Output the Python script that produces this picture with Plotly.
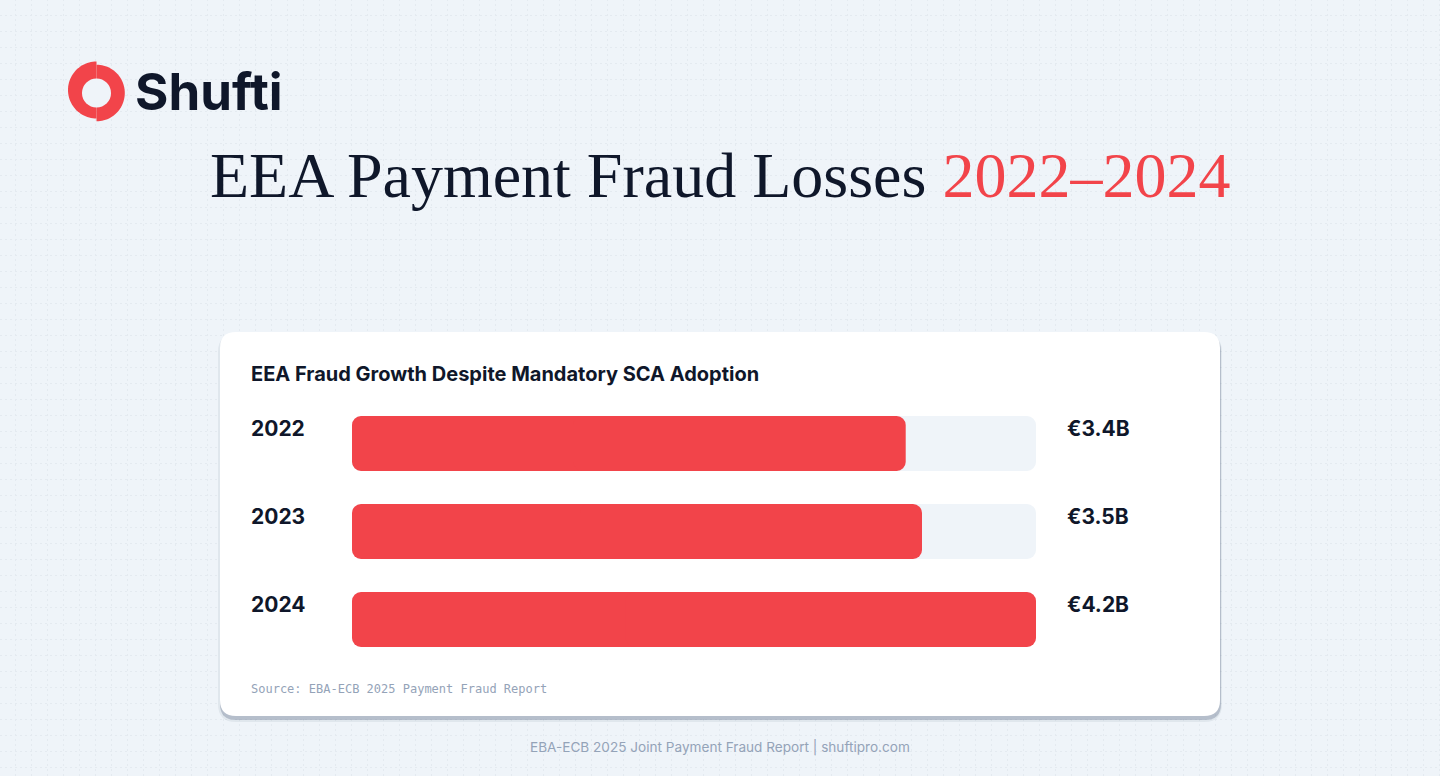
import math
import plotly.graph_objects as go

# ---- data ----
years = ["2022", "2023", "2024"]
losses_bn = [3.4, 3.5, 4.2]
axis_max = 4.2
chart_title = "EEA Payment Fraud Losses"
title_span = "2022–2024"
card_title = "EEA Fraud Growth Despite Mandatory SCA Adoption"
source_note = "Source: EBA-ECB 2025 Payment Fraud Report"
footer_note = "EBA-ECB 2025 Joint Payment Fraud Report | shuftipro.com"
brand = "Shufti"

W, H = 1440, 776
BG = "#EFF4F9"
RED = "#F2444A"
NAVY = "#0F172A"
TRACK = "#EFF4F9"
GRAY = "#94A3B8"
PAD = 3  # annotation inner padding in px
BAR_W = 0.625
RADIUS = 9


def X(px):
    return px / W


def Y(py):
    return 1 - py / H


def rrect(x0, y0, x1, y1, r):
    pts = [
        f"M{X(x0 + r)},{Y(y0)}",
        f"L{X(x1 - r)},{Y(y0)}",
        f"Q{X(x1)},{Y(y0)} {X(x1)},{Y(y0 + r)}",
        f"L{X(x1)},{Y(y1 - r)}",
        f"Q{X(x1)},{Y(y1)} {X(x1 - r)},{Y(y1)}",
        f"L{X(x0 + r)},{Y(y1)}",
        f"Q{X(x0)},{Y(y1)} {X(x0)},{Y(y1 - r)}",
        f"L{X(x0)},{Y(y0 + r)}",
        f"Q{X(x0)},{Y(y0)} {X(x0 + r)},{Y(y0)}",
        "Z",
    ]
    return " ".join(pts)


def half_disk(cx, cy, r, side):
    # side: -1 = left half, +1 = right half (angles measured in screen px)
    n = 48
    pts = []
    for k in range(n + 1):
        a = math.pi / 2 + side * (-math.pi * k / n)  # from bottom through side to top
        px = cx + side * r * abs(math.cos(a - math.pi / 2 + math.pi / 2)) if False else None
    pts = []
    for k in range(n + 1):
        t = -math.pi / 2 + math.pi * k / n  # -90..90 deg
        px = cx + side * r * math.cos(t)
        py = cy + r * math.sin(t)
        pts.append((px, py))
    path = "M" + " L".join(f"{X(p[0])},{Y(p[1])}" for p in pts) + " Z"
    return path


shapes = []
# background dotted grid
gx = 15.5
while gx < W:
    shapes.append(dict(type="line", xref="paper", yref="paper", x0=X(gx), x1=X(gx), y0=0, y1=1,
                       line=dict(color="#E4EAF0", width=1, dash="2px,3px"), layer="below"))
    gx += 16
gy = 15.5
while gy < H:
    shapes.append(dict(type="line", xref="paper", yref="paper", x0=0, x1=1, y0=Y(gy), y1=Y(gy),
                       line=dict(color="#E4EAF0", width=1, dash="2px,3px"), layer="below"))
    gy += 16

# card shadow + card
shapes.append(dict(type="path", xref="paper", yref="paper", path=rrect(218, 334, 1222, 722, 18),
                   fillcolor="rgba(100,116,139,0.10)", line=dict(width=0), layer="below"))
shapes.append(dict(type="path", xref="paper", yref="paper", path=rrect(220, 335, 1221, 720, 16),
                   fillcolor="rgba(100,116,139,0.35)", line=dict(width=0), layer="below"))
shapes.append(dict(type="path", xref="paper", yref="paper", path=rrect(220, 332, 1220, 716, 16),
                   fillcolor="#FFFFFF", line=dict(width=0), layer="below"))

# logo ring (two offset halves)
shapes.append(dict(type="path", xref="paper", yref="paper", path=half_disk(96.5, 90.0, 28.5, -1),
                   fillcolor=RED, line=dict(width=0), layer="below"))
shapes.append(dict(type="path", xref="paper", yref="paper", path=half_disk(96.5, 93.0, 28.3, 1),
                   fillcolor=RED, line=dict(width=0), layer="below"))
hx, hy, hr = 96.5, 93.0, 14.5
shapes.append(dict(type="circle", xref="paper", yref="paper", x0=X(hx - hr), x1=X(hx + hr),
                   y0=Y(hy + hr), y1=Y(hy - hr), fillcolor=BG, line=dict(width=0), layer="below"))

fig = go.Figure()


def add_rounded_bar(values, color, hover):
    # each bar is drawn as two overlapping halves so that both ends get rounded corners
    left_len = [v * 0.6 for v in values]
    right_base = [v * 0.4 for v in values]
    fig.add_trace(go.Bar(y=years, x=[-l for l in left_len], base=left_len, orientation="h",
                         marker=dict(color=color, line=dict(width=0)), width=BAR_W,
                         hoverinfo="skip", showlegend=False))
    fig.add_trace(go.Bar(y=years, x=[v - b for v, b in zip(values, right_base)], base=right_base,
                         orientation="h", marker=dict(color=color, line=dict(width=0)), width=BAR_W,
                         customdata=values, showlegend=False,
                         hovertemplate=hover if hover else None,
                         hoverinfo=None if hover else "skip"))


add_rounded_bar([axis_max] * len(years), TRACK, None)
add_rounded_bar(losses_bn, RED, "%{y}: €%{customdata}B<extra></extra>")

annotations = []
annotations.append(dict(xref="paper", yref="paper", x=X(136 - PAD), y=Y(91), xanchor="left", yanchor="middle",
                        text=f"<b>{brand}</b>", showarrow=False,
                        font=dict(family="Inter", size=51, color=NAVY)))
annotations.append(dict(xref="paper", yref="paper", x=0.5, y=Y(176), xanchor="center", yanchor="middle",
                        text=f"{chart_title} <span style='color:{RED}'>{title_span}</span>", showarrow=False,
                        font=dict(family="Liberation Serif", size=64, color=NAVY)))
annotations.append(dict(xref="paper", yref="paper", x=X(252 - PAD), y=Y(374), xanchor="left", yanchor="middle",
                        text=f"<b>{card_title}</b>", showarrow=False,
                        font=dict(family="Inter", size=20, color=NAVY)))
for i, (yr, v) in enumerate(zip(years, losses_bn)):
    annotations.append(dict(xref="paper", yref="y", x=X(252 - PAD), y=i, yshift=15.5, xanchor="left",
                            yanchor="middle", text=f"<b>{yr}</b>", showarrow=False,
                            font=dict(family="Inter", size=21, color=NAVY)))
    annotations.append(dict(xref="paper", yref="y", x=X(1068 - PAD), y=i, yshift=15.5, xanchor="left",
                            yanchor="middle", text=f"<b>€{v}B</b>", showarrow=False,
                            font=dict(family="Inter", size=21, color=NAVY)))
annotations.append(dict(xref="paper", yref="paper", x=X(252 - PAD), y=Y(689), xanchor="left", yanchor="middle",
                        text=source_note, showarrow=False,
                        font=dict(family="DejaVu Sans Mono", size=12, color=GRAY)))
annotations.append(dict(xref="paper", yref="paper", x=0.5, y=Y(747), xanchor="center", yanchor="middle",
                        text=footer_note, showarrow=False,
                        font=dict(family="Inter", size=13.6, color=GRAY)))

fig.update_layout(
    width=W, height=H, margin=dict(l=0, r=0, t=0, b=0),
    paper_bgcolor=BG, plot_bgcolor="rgba(0,0,0,0)",
    barmode="overlay", barcornerradius=RADIUS,
    shapes=shapes, annotations=annotations,
    xaxis=dict(domain=[X(352), X(1036)], range=[0, axis_max], visible=False, fixedrange=True),
    yaxis=dict(domain=[Y(647), Y(416)], type="category", range=[2.3125, -0.3125],
               visible=False, fixedrange=True),
)

fig.write_html("out.html", config={"displayModeBar": False})
